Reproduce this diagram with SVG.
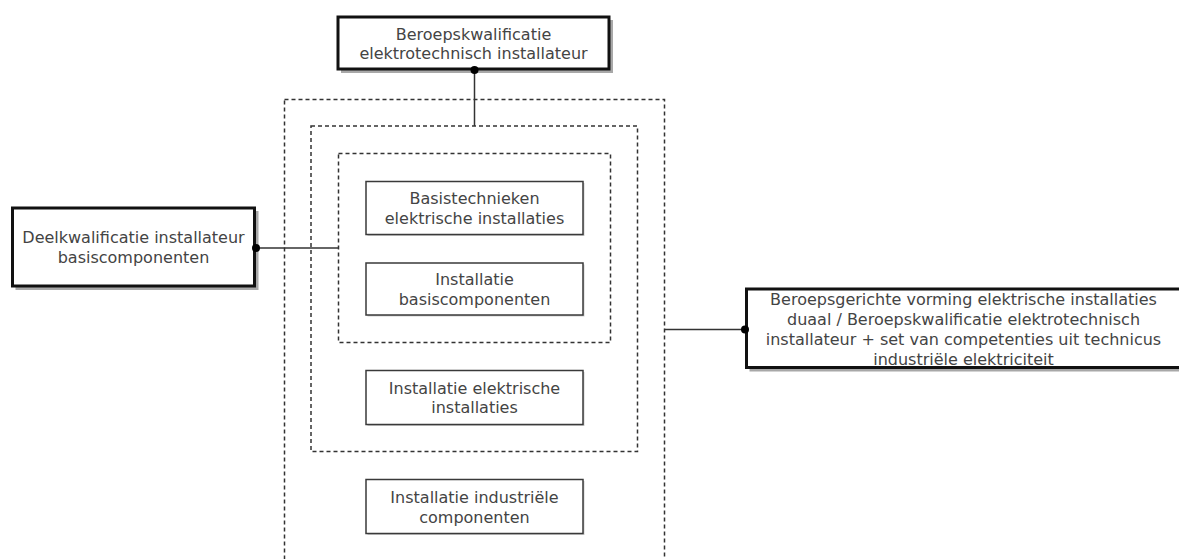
<svg xmlns="http://www.w3.org/2000/svg" width="1179" height="559" viewBox="0 0 1179 559">
<style>
.bg{fill:#ffffff}
.main{fill:#ffffff;stroke:#111;stroke-width:3}
.mshadow{fill:#a8a8a8}
.sub{fill:#ffffff;stroke:#3a3a3a;stroke-width:1.5}
.sshadow{fill:#cfcfcf}
.grp{fill:none;stroke:#333;stroke-width:1.5;stroke-dasharray:4 3}
.t{font-family:"DejaVu Sans",Verdana,sans-serif;font-size:16px;fill:#444;text-anchor:middle}
.c{stroke:#333;stroke-width:1.5;fill:none}
.dot{fill:#000}
</style>
<rect class="bg" x="0" y="0" width="1179" height="559"/>
<g id="groups">
<rect class="grp" x="284.5" y="99.5" width="380" height="480"/>
<rect class="grp" x="311" y="126" width="326.5" height="325.5"/>
<rect class="grp" x="338.5" y="153.5" width="272" height="189"/>
</g>
<g id="node-top">
<rect class="mshadow" x="341" y="20" width="272" height="53"/>
<rect class="main" x="338" y="17" width="271" height="52"/>
<text class="t" x="473.5" y="39.5">Beroepskwalificatie</text>
<text class="t" x="473.5" y="59">elektrotechnisch installateur</text>
</g>
<g id="node-left">
<rect class="mshadow" x="15.5" y="211" width="243" height="79"/>
<rect class="main" x="12.5" y="208" width="242" height="78"/>
<text class="t" x="133.5" y="243.3">Deelkwalificatie installateur</text>
<text class="t" x="133.5" y="262.8">basiscomponenten</text>
</g>
<g id="node-right">
<rect class="mshadow" x="749.5" y="292" width="437" height="79.5"/>
<rect class="main" x="746.5" y="289" width="436" height="78.5"/>
<text class="t" x="963.5" y="305">Beroepsgerichte vorming elektrische installaties</text>
<text class="t" x="963.5" y="325">duaal / Beroepskwalificatie elektrotechnisch</text>
<text class="t" x="963.5" y="345">installateur + set van competenties uit technicus</text>
<text class="t" x="963.5" y="364.5">industriële elektriciteit</text>
</g>
<g id="node-basistechnieken">
<rect class="sshadow" x="367.5" y="183" width="217" height="53"/>
<rect class="sub" x="366" y="181.5" width="217" height="53"/>
<text class="t" x="474.5" y="204.3">Basistechnieken</text>
<text class="t" x="474.5" y="223.8">elektrische installaties</text>
</g>
<g id="node-basiscomponenten">
<rect class="sshadow" x="367.5" y="264.5" width="217" height="52"/>
<rect class="sub" x="366" y="263" width="217" height="52"/>
<text class="t" x="474.5" y="285.3">Installatie</text>
<text class="t" x="474.5" y="304.8">basiscomponenten</text>
</g>
<g id="node-elektrische">
<rect class="sshadow" x="367.5" y="372" width="217" height="54"/>
<rect class="sub" x="366" y="370.5" width="217" height="54"/>
<text class="t" x="474.5" y="393.8">Installatie elektrische</text>
<text class="t" x="474.5" y="413.3">installaties</text>
</g>
<g id="node-industriele">
<rect class="sshadow" x="367.5" y="481" width="217" height="54"/>
<rect class="sub" x="366" y="479.5" width="217" height="54"/>
<text class="t" x="474.5" y="503.3">Installatie industriële</text>
<text class="t" x="474.5" y="522.8">componenten</text>
</g>
<g id="connectors">
<line class="c" x1="474.5" y1="70" x2="474.5" y2="126"/>
<line class="c" x1="256" y1="248" x2="338.5" y2="248"/>
<line class="c" x1="664.5" y1="329.5" x2="745" y2="329.5"/>
<circle class="dot" cx="474.5" cy="70" r="4"/>
<circle class="dot" cx="256" cy="248" r="4"/>
<circle class="dot" cx="745" cy="329.5" r="4"/>
</g>
</svg>
